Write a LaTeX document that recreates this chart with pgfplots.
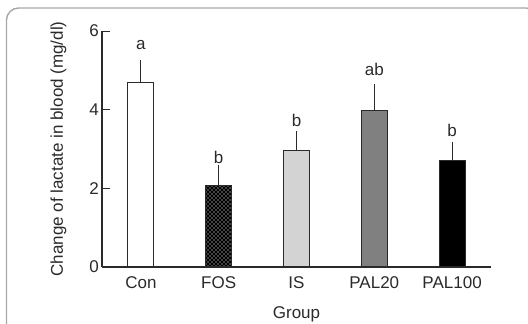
\documentclass[border=0pt]{standalone}
\usepackage{fontspec}
\setmainfont{Liberation Sans}
\usepackage{pgfplots}
\pgfplotsset{compat=1.18}
\usetikzlibrary{patterns.meta}
\definecolor{txt}{HTML}{2A2A2A}
\definecolor{framec}{HTML}{A8A8A8}
\tikzdeclarepattern{
  name=densecross,
  type=uncolored,
  bounding box={(-0.5pt,-0.5pt) and (4.5pt,4.5pt)},
  tile size={(4pt,4pt)},
  code={
    \pgfsetlinewidth{1.5pt}
    \pgfpathmoveto{\pgfpoint{-0.5pt}{-0.5pt}}
    \pgfpathlineto{\pgfpoint{4.5pt}{4.5pt}}
    \pgfpathmoveto{\pgfpoint{-0.5pt}{4.5pt}}
    \pgfpathlineto{\pgfpoint{4.5pt}{-0.5pt}}
    \pgfusepath{stroke}
  }
}
\newcommand{\ff}{\fontsize{17}{20}\selectfont}
\begin{document}
\ff
\begin{tikzpicture}[x=1pt,y=1pt]
\useasboundingbox (0,0) rectangle (528,324);
\draw[framec, line width=1.4pt, rounded corners=12pt] (6.5,-30) -- (6.5,316) -- (538,316) -- (538,-30);
\begin{axis}[
  at={(102pt,57pt)}, anchor=south west,
  scale only axis, width=389pt, height=236pt,
  xmin=-0.5, xmax=4.5, ymin=0, ymax=6,
  axis x line=bottom, axis y line=left,
  axis line style={-, txt, line width=1.1pt},
  xtick={0,1,2,3,4},
  xticklabels={Con,FOS,IS,PAL20,PAL100},
  xtick style={draw=none},
  ytick={0,2,4,6},
  tick align=inside,
  major tick length=8pt,
  ytick style={txt, line width=1pt},
  /pgf/number format/assume math mode=true,
  tick label style={font=\ff, text=txt},
  xticklabel style={anchor=base, yshift=-22pt},
  yticklabel style={anchor=east, inner sep=0pt, xshift=-3pt},
  label style={font=\ff, text=txt},
  xlabel={Group},
  xlabel style={at={(axis description cs:0.5,-0.22)}, anchor=base},
  ylabel={Change of lactate in blood (mg/dl)},
  ylabel style={at={(axis description cs:-0.112,0.5)}, anchor=center},
  error bars/y dir=plus, error bars/y explicit,
  error bars/error bar style={txt, line width=1pt},
  error bars/error mark options={txt, line width=1pt, mark size=3pt},
  clip=false,
]
\addplot[ybar, bar shift=0pt, bar width=26pt, fill=white, draw=txt, line width=1pt]
  coordinates {(0,4.68) +- (0,0.51)};
\addplot[ybar, bar shift=0pt, bar width=26pt, fill=white, postaction={pattern=densecross, pattern color=black}, draw=txt, line width=1pt]
  coordinates {(1,2.08) +- (0,0.44)};
\addplot[ybar, bar shift=0pt, bar width=26pt, fill={rgb,255:red,211;green,211;blue,211}, draw=txt, line width=1pt]
  coordinates {(2,2.95) +- (0,0.43)};
\addplot[ybar, bar shift=0pt, bar width=26pt, fill={rgb,255:red,128;green,128;blue,128}, draw=txt, line width=1pt]
  coordinates {(3,3.99) +- (0,0.59)};
\addplot[ybar, bar shift=0pt, bar width=26pt, fill=black, draw=txt, line width=1pt]
  coordinates {(4,2.71) +- (0,0.38)};
\node[anchor=base, text=txt, font=\ff] at (axis cs:0,5.52) {a};
\node[anchor=base, text=txt, font=\ff] at (axis cs:1,2.62) {b};
\node[anchor=base, text=txt, font=\ff] at (axis cs:2,3.56) {b};
\node[anchor=base, text=txt, font=\ff] at (axis cs:3,4.86) {ab};
\node[anchor=base, text=txt, font=\ff] at (axis cs:4,3.31) {b};
\end{axis}
\end{tikzpicture}
\end{document}
